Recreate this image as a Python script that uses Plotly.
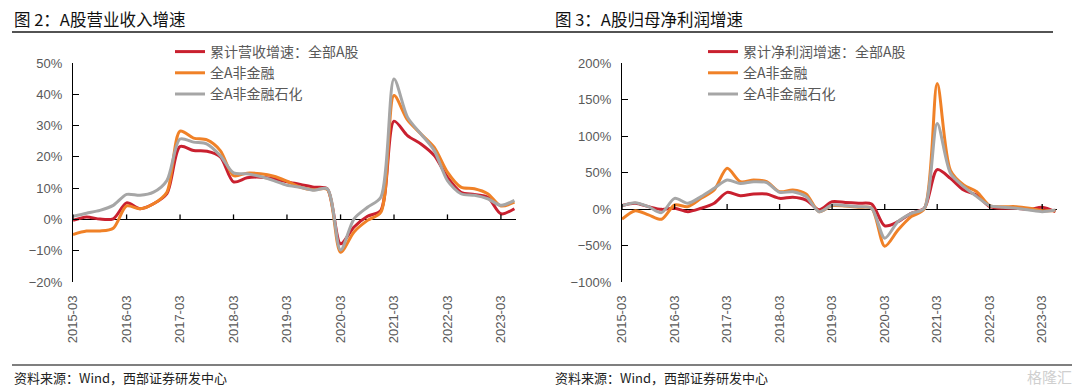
import plotly.graph_objects as go

# ---------------- data ----------------
quarters = [f"{y}-{m:02d}-01" for y in range(2015, 2024) for m in (3, 6, 9, 12)][:34]

tick_dates = [f"{y}-03-01" for y in range(2015, 2024)]

rev_all = [-0.3, 0.8, 0.1, 0.2,
           5.3, 3.4, 5.0, 8.2,
           23.3, 22.0, 21.8, 20.0,
           12.0, 13.3, 13.5, 13.0,
           12.0, 11.2, 10.3, 9.8,
           -7.8, -2.4, 1.0, 2.9,
           31.4, 26.8, 24.1, 20.4,
           13.5, 8.7, 8.0, 7.1,
           1.8, 3.4]
rev_nonfin = [-4.8, -3.7, -3.7, -2.8,
              4.3, 3.4, 5.0, 8.7,
              28.2, 26.0, 25.4, 22.0,
              14.0, 14.8, 14.6, 13.8,
              12.2, 10.3, 9.5, 9.6,
              -10.5, -4.0, -0.3, 2.3,
              39.6, 31.8, 27.3, 23.0,
              15.1, 10.3, 9.8, 8.2,
              4.3, 5.5]
rev_nonfin_ex = [1.0, 2.0, 2.9, 4.5,
                 8.0, 7.7, 8.7, 12.4,
                 25.7, 24.7, 24.1, 20.4,
                 14.9, 14.6, 13.7, 12.4,
                 10.9, 10.3, 9.3, 9.8,
                 -9.8, 0.2, 3.9, 7.1,
                 44.9, 32.7, 27.3, 22.0,
                 12.4, 8.2, 7.7, 6.6,
                 4.5, 6.1]

np_all = [4.6, 7.8, 3.2, -0.5,
          1.0, -3.7, 1.0, 7.8,
          22.8, 18.3, 20.5, 20.5,
          14.6, 16.0, 12.3, -1.0,
          10.0, 9.0, 7.8, 6.8,
          -23.0, -17.4, -6.0, 1.0,
          54.0, 42.0, 26.0, 19.0,
          3.2, 1.0, 1.0, -0.5,
          2.3, -3.7]
np_nonfin = [-14.0, -2.3, -8.0, -14.0,
             5.5, 3.2, 14.6, 26.0,
             55.7, 37.4, 39.7, 37.4,
             23.7, 26.0, 20.5, -3.7,
             4.6, 4.0, 2.3, 1.0,
             -51.0, -28.8, -10.5, 0.0,
             172.0, 53.0, 33.0, 23.7,
             4.6, 3.2, 3.2, 1.0,
             -2.3, -2.3]
np_nonfin_ex = [4.6, 8.7, 3.2, -5.0,
                14.6, 7.8, 17.0, 28.3,
                39.7, 35.0, 37.4, 36.0,
                22.8, 23.7, 17.0, -3.7,
                5.5, 4.6, 3.2, 1.0,
                -40.0, -17.4, -6.0, 1.0,
                117.0, 49.0, 30.6, 17.0,
                4.6, 2.3, 1.0, -1.4,
                -3.7, -1.4]

names_rev = ["累计营收增速：全部A股", "全A非金融", "全A非金融石化"]
names_np = ["累计净利润增速：全部A股", "全A非金融", "全A非金融石化"]
colors = ["#C9202F", "#F08127", "#A6A6A6"]

left_ticks = [50, 40, 30, 20, 10, 0, -10, -20]
right_ticks = [200, 150, 100, 50, 0, -50, -100]


def pct(v):
    return (f"{v}%" if v >= 0 else f"\u2212{abs(v)}%")


# ---------------- figure ----------------
OFF = 8                      # page body margin in the viewer
W, H = 1080 - OFF, 389 - OFF


def px(xp):                  # reference pixel x -> paper fraction
    return (xp - OFF) / W


def py(yp):                  # reference pixel y -> paper fraction
    return 1 - (yp - OFF) / H


CJK = "Noto Sans CJK SC"
LAT = "Liberation Sans, Arial, sans-serif"
TXT = "#595959"

fig = go.Figure()

for vals, nm, c in zip([rev_all, rev_nonfin, rev_nonfin_ex], names_rev, colors):
    fig.add_trace(go.Scatter(x=quarters, y=vals, name=nm, mode="lines",
                             line=dict(color=c, width=3, shape="spline", smoothing=0.8),
                             xaxis="x", yaxis="y", legend="legend"))
for vals, nm, c in zip([np_all, np_nonfin, np_nonfin_ex], names_np, colors):
    fig.add_trace(go.Scatter(x=quarters, y=vals, name=nm, mode="lines",
                             line=dict(color=c, width=3, shape="spline", smoothing=0.8),
                             xaxis="x2", yaxis="y2", legend="legend2"))

ydom = [py(282), py(63)]
x_range = ["2015-03-01", "2023-06-12"]

xcommon = dict(type="date", range=x_range, tickvals=tick_dates, tickformat="%Y-%m",
               tickangle=-90, ticks="", showline=False, showgrid=False, zeroline=False,
               tickfont=dict(family=LAT, size=13, color=TXT), ticklabelstandoff=10,
               automargin=False)
ycommon = dict(showline=True, linecolor="#000000", linewidth=1.3, ticks="inside",
               ticklen=6, tickcolor="#000000", tickwidth=1.3, showgrid=False,
               zeroline=True, zerolinecolor="#000000", zerolinewidth=1.3,
               tickfont=dict(family=LAT, size=13, color=TXT),
               ticklabelstandoff=7, automargin=False)

legend_common = dict(xanchor="left", yanchor="top", bgcolor="rgba(0,0,0,0)", borderwidth=0,
                     font=dict(family=CJK, size=14, color=TXT), tracegroupgap=0,
                     itemwidth=30)

fig.update_layout(
    width=W, height=H,
    margin=dict(l=0, r=0, t=0, b=0, autoexpand=False),
    paper_bgcolor="white", plot_bgcolor="white",
    xaxis=dict(domain=[px(73), px(516)], anchor="y", **xcommon),
    xaxis2=dict(domain=[px(622), px(1057)], anchor="y2", **xcommon),
    yaxis=dict(domain=ydom, anchor="x", range=[-20, 50], tickvals=left_ticks,
               ticktext=[pct(v) for v in left_ticks], **ycommon),
    yaxis2=dict(domain=ydom, anchor="x2", range=[-100, 200], tickvals=right_ticks,
                ticktext=[pct(v) for v in right_ticks], **ycommon),
    legend=dict(x=px(170), y=py(36), **legend_common),
    legend2=dict(x=px(703), y=py(36), **legend_common),
    showlegend=True,
)

# x tick marks on zero line (upward)
shapes = []
for xa, ya in (("x", "y"), ("x2", "y2")):
    for d in tick_dates:
        shapes.append(dict(type="line", xref=xa, yref=ya, x0=d, x1=d,
                           ysizemode="pixel", yanchor=0, y0=0, y1=5,
                           line=dict(color="#000000", width=1.3)))
# header and footer rules
shapes.append(dict(type="line", xref="paper", yref="paper", x0=px(12), x1=px(1053),
                   y0=py(32), y1=py(32), line=dict(color="#1a1a1a", width=1.3)))
shapes.append(dict(type="line", xref="paper", yref="paper", x0=px(12), x1=px(1078),
                   y0=py(365), y1=py(365), line=dict(color="#555555", width=1.5)))
fig.update_layout(shapes=shapes)

annotations = [
    dict(text="图 2：A股营业收入增速", x=px(13), y=py(19), xref="paper", yref="paper",
         xanchor="left", yanchor="middle", showarrow=False, borderpad=0,
         font=dict(family=CJK, size=16.5, color="#111111")),
    dict(text="图 3：A股归母净利润增速", x=px(554), y=py(19), xref="paper", yref="paper",
         xanchor="left", yanchor="middle", showarrow=False, borderpad=0,
         font=dict(family=CJK, size=16.5, color="#111111")),
    dict(text="资料来源：Wind，西部证券研发中心", x=px(12), y=py(377), xref="paper", yref="paper",
         xanchor="left", yanchor="middle", showarrow=False,
         font=dict(family=CJK, size=13, color="#222222")),
    dict(text="资料来源：Wind，西部证券研发中心", x=px(553), y=py(377), xref="paper", yref="paper",
         xanchor="left", yanchor="middle", showarrow=False,
         font=dict(family=CJK, size=13, color="#222222")),
    dict(text="格隆汇", x=px(1074), y=py(376), xref="paper", yref="paper",
         xanchor="right", yanchor="middle", showarrow=False,
         font=dict(family=CJK, size=15, color="#cfcfcf")),
]
fig.update_layout(annotations=annotations)

fig.write_html("out.html")
